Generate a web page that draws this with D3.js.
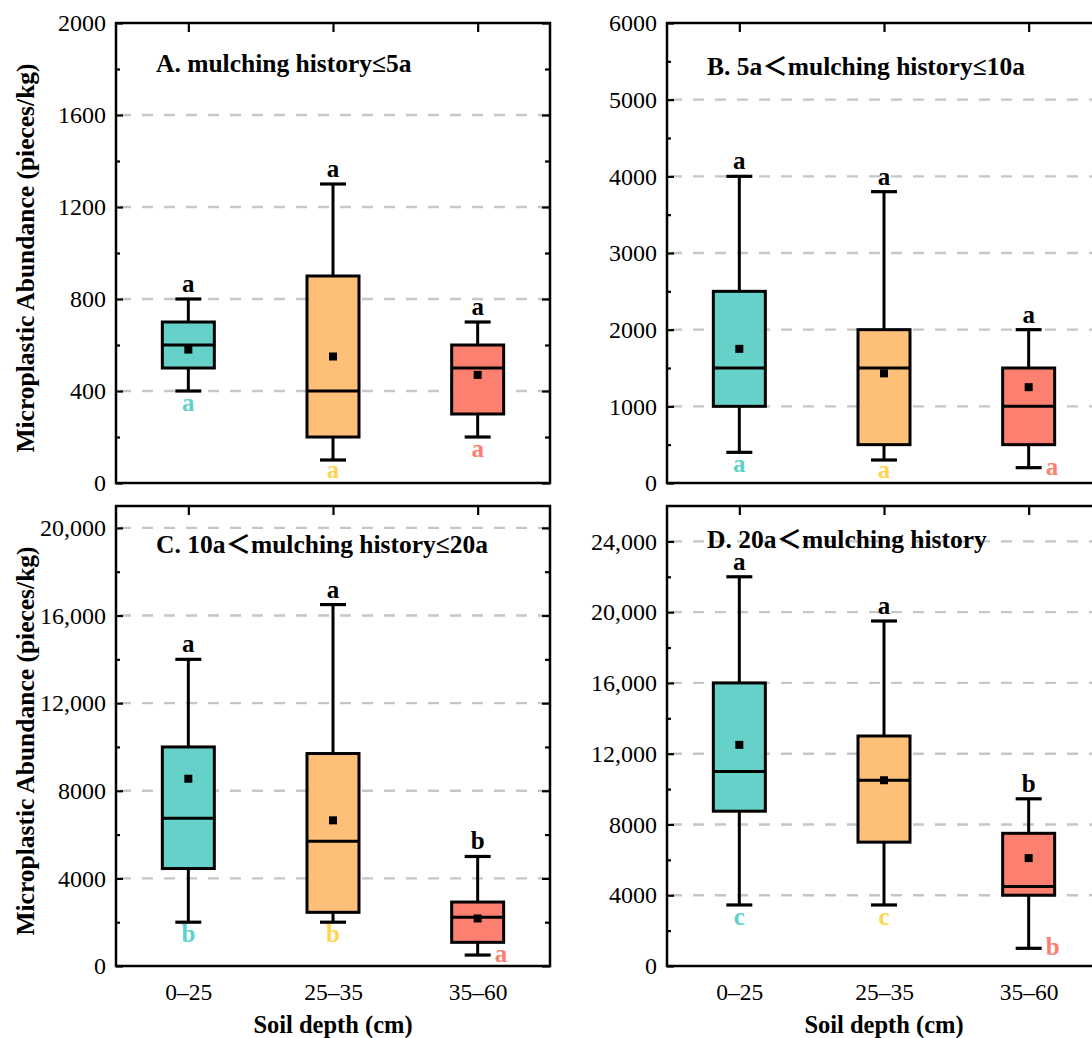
<!DOCTYPE html>
<html>
<head>
<meta charset="utf-8">
<script src="https://cdn.jsdelivr.net/npm/d3@7"></script>
<style>
body { margin: 0; background: #fff; }
</style>
</head>
<body>
<svg id="chart" width="1092" height="1038"></svg>
<script>
// soil depth groups and panel titles
var depths = ["0–25", "25–35", "35–60"]
var panelTitles = ["A. mulching history≤5a", "B. 5a＜mulching history≤10a", "C. 10a＜mulching history≤20a", "D. 20a＜mulching history"]
var yMax = [2000, 6000, 21000, 26000]
var yStep = [400, 1000, 4000, 4000]

// box statistics, one row per panel, one value per depth
var whiskerLow = [[400, 100, 200], [400, 300, 200], [2000, 2000, 500], [3450, 3450, 1000]]
var q1 = [[500, 200, 300], [1000, 500, 500], [4450, 2450, 1080], [8750, 7000, 4000]]
var median = [[600, 400, 500], [1500, 1500, 1000], [6750, 5700, 2220], [11000, 10500, 4500]]
var q3 = [[700, 900, 600], [2500, 2000, 1500], [10000, 9700, 2920], [16000, 13000, 7500]]
var whiskerHigh = [[800, 1300, 700], [4000, 3800, 2000], [14000, 16500, 5000], [22000, 19500, 9450]]
var mean = [[580, 550, 470], [1750, 1430, 1250], [8550, 6650, 2170], [12500, 10500, 6100]]
var topLetters = [["a", "a", "a"], ["a", "a", "a"], ["a", "a", "b"], ["a", "a", "b"]]
var lowLetters = [["a", "a", "a"], ["a", "a", "a"], ["b", "b", "a"], ["c", "c", "b"]]

var fills = ["#66d1c9", "#febf78", "#fc806f"]
var letterColors = ["#5ed2ca", "#ffd54f", "#fc806f"]

var FONT = "Liberation Serif, Noto Sans CJK SC, serif"
var svg = d3.select("#chart").attr("font-family", FONT)
var plotW = 434
var boxW = 52, capW = 26

var panels = [
    { left: 116, top: 23, bottom: 483, titleY: 72, yTitle: true, xAxis: false },
    { left: 667, top: 23, bottom: 483, titleY: 75, yTitle: false, xAxis: false },
    { left: 116, top: 506, bottom: 966, titleY: 553, yTitle: true, xAxis: true },
    { left: 667, top: 506, bottom: 966, titleY: 548, yTitle: false, xAxis: true }
]

function fmt(v) {
    return v >= 10000 ? d3.format(",")(v) : String(v)
}

function style_axis(sel) {
    sel.attr("font-family", FONT)
    sel.select(".domain").remove()
    sel.selectAll("line").attr("stroke", "#000").attr("stroke-width", 2.2)
    sel.selectAll("text").attr("fill", "#000")
}

function draw_panel(p, i) {
    var g = svg.append("g")
    var right = p.left + plotW
    var x = d3.scalePoint().domain(depths).range([p.left, right]).padding(0.5)
    var y = d3.scaleLinear().domain([0, yMax[i]]).range([p.bottom, p.top])
    var majors = d3.range(0, yMax[i] + 1, yStep[i])
    var minors = d3.range(yStep[i] / 2, yMax[i], yStep[i])

    // dashed grid
    g.selectAll(".grid")
        .data(majors.filter(function (v) { return v > 0 && v < yMax[i] }))
        .enter().append("line")
        .attr("x1", p.left + 4).attr("x2", right)
        .attr("y1", function (d) { return y(d) }).attr("y2", function (d) { return y(d) })
        .attr("stroke", "#c6c6c6").attr("stroke-width", 2.4)
        .attr("stroke-dasharray", "11,11")

    // panel title
    g.append("text")
        .attr("x", p.left + 40).attr("y", p.titleY)
        .attr("font-size", 25.5).attr("font-weight", "bold")
        .text(panelTitles[i])

    var idx = d3.range(depths.length)
    var b = g.selectAll(".box").data(idx).enter().append("g")
    var cx = function (j) { return x(depths[j]) }

    // whiskers
    b.append("line")
        .attr("x1", cx).attr("x2", cx)
        .attr("y1", function (j) { return y(whiskerHigh[i][j]) })
        .attr("y2", function (j) { return y(whiskerLow[i][j]) })
        .attr("stroke", "#000").attr("stroke-width", 3)
    b.append("line")
        .attr("x1", function (j) { return cx(j) - capW / 2 }).attr("x2", function (j) { return cx(j) + capW / 2 })
        .attr("y1", function (j) { return y(whiskerHigh[i][j]) }).attr("y2", function (j) { return y(whiskerHigh[i][j]) })
        .attr("stroke", "#000").attr("stroke-width", 3.2)
    b.append("line")
        .attr("x1", function (j) { return cx(j) - capW / 2 }).attr("x2", function (j) { return cx(j) + capW / 2 })
        .attr("y1", function (j) { return y(whiskerLow[i][j]) }).attr("y2", function (j) { return y(whiskerLow[i][j]) })
        .attr("stroke", "#000").attr("stroke-width", 3.2)

    // box
    b.append("rect")
        .attr("x", function (j) { return cx(j) - boxW / 2 })
        .attr("width", boxW)
        .attr("y", function (j) { return y(q3[i][j]) })
        .attr("height", function (j) { return y(q1[i][j]) - y(q3[i][j]) })
        .attr("fill", function (j) { return fills[j] })
        .attr("stroke", "#000").attr("stroke-width", 3)

    // median
    b.append("line")
        .attr("x1", function (j) { return cx(j) - boxW / 2 }).attr("x2", function (j) { return cx(j) + boxW / 2 })
        .attr("y1", function (j) { return y(median[i][j]) }).attr("y2", function (j) { return y(median[i][j]) })
        .attr("stroke", "#000").attr("stroke-width", 3)

    // mean
    b.append("rect")
        .attr("x", function (j) { return cx(j) - 4 }).attr("width", 8)
        .attr("y", function (j) { return y(mean[i][j]) - 4 }).attr("height", 8)
        .attr("fill", "#000")

    // significance letters
    b.append("text")
        .attr("x", cx)
        .attr("y", function (j) { return y(whiskerHigh[i][j]) - 7 })
        .attr("text-anchor", "middle")
        .attr("font-size", 25).attr("font-weight", "bold")
        .text(function (j) { return topLetters[i][j] })

    b.append("text")
        .each(function (j) {
            var wy = y(whiskerLow[i][j])
            var t = d3.select(this)
            if (p.bottom - wy < 20) {
                t.attr("x", cx(j) + 17).attr("y", wy + 7).attr("text-anchor", "start")
            } else {
                t.attr("x", cx(j)).attr("y", Math.min(wy + 20, p.bottom - 5)).attr("text-anchor", "middle")
            }
        })
        .attr("font-size", 25).attr("font-weight", "bold")
        .attr("fill", function (j) { return letterColors[j] })
        .text(function (j) { return lowLetters[i][j] })

    // axes with inward ticks
    g.append("g").attr("transform", "translate(" + p.left + ",0)")
        .call(d3.axisLeft(y).tickValues(majors).tickSize(-7).tickPadding(10).tickFormat(fmt))
        .attr("font-size", 24)
        .call(style_axis)
    g.append("g").attr("transform", "translate(" + p.left + ",0)")
        .call(d3.axisLeft(y).tickValues(minors).tickSize(-4).tickFormat(""))
        .call(style_axis)
    g.append("g").attr("transform", "translate(" + right + ",0)")
        .call(d3.axisRight(y).tickValues(majors).tickSize(-8).tickFormat(""))
        .call(style_axis)
    g.append("g").attr("transform", "translate(" + right + ",0)")
        .call(d3.axisRight(y).tickValues(minors).tickSize(-5).tickFormat(""))
        .call(style_axis)
    g.append("g").attr("transform", "translate(0," + p.top + ")")
        .call(d3.axisTop(x).tickSize(-9).tickFormat(""))
        .call(style_axis)

    if (p.xAxis) {
        g.append("g").attr("transform", "translate(0," + p.bottom + ")")
            .call(d3.axisBottom(x).tickSize(0).tickPadding(17))
            .attr("font-size", 23.5)
            .call(style_axis)
        g.append("text")
            .attr("x", p.left + plotW / 2).attr("y", 1033)
            .attr("text-anchor", "middle")
            .attr("font-size", 24.5).attr("font-weight", "bold")
            .text("Soil depth (cm)")
    }

    if (p.yTitle) {
        var cy = (p.top + p.bottom) / 2 + 5
        g.append("text")
            .attr("transform", "translate(34," + cy + ") rotate(-90)")
            .attr("text-anchor", "middle")
            .attr("font-size", 25.5).attr("font-weight", "bold")
            .text("Microplastic Abundance (pieces/kg)")
    }

    // frame
    g.append("rect")
        .attr("x", p.left).attr("y", p.top)
        .attr("width", plotW).attr("height", p.bottom - p.top)
        .attr("fill", "none").attr("stroke", "#000").attr("stroke-width", 2.5)
}

panels.forEach(draw_panel)
</script>
</body>
</html>
